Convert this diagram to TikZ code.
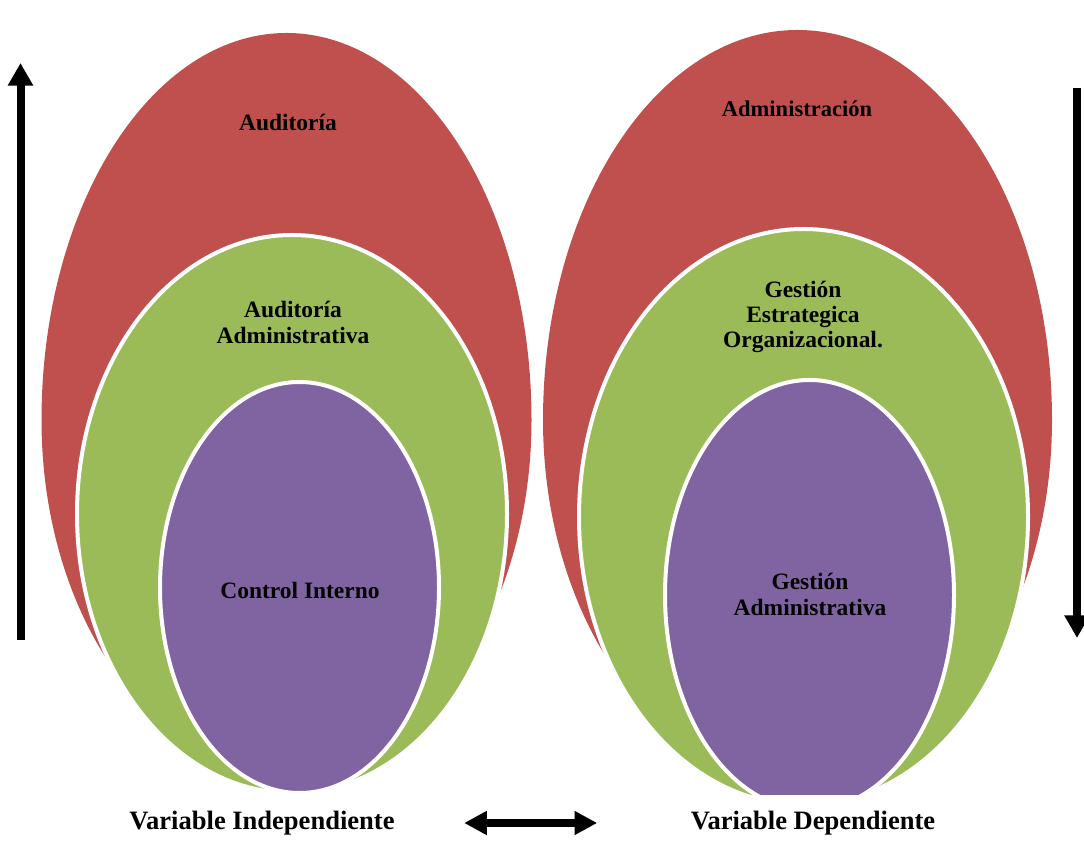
\documentclass[tikz,border=0pt]{standalone}
\usepackage{fontspec}
\setmainfont{Liberation Serif}
\usepackage{tikz}
\usetikzlibrary{arrows.meta, positioning, shapes.geometric}
\definecolor{RingRed}{RGB}{192,80,77}
\definecolor{RingGreen}{RGB}{155,187,89}
\definecolor{RingPurple}{RGB}{128,100,162}
\tikzset{
  outer/.style={fill=RingRed},
  middle/.style={fill=RingGreen, draw=white, line width=3pt},
  inner/.style={fill=RingPurple, draw=white, line width=3pt},
  lbl/.style={inner sep=0pt, align=center, text=black,
    font=\fontsize{17.6}{18.8}\selectfont\bfseries},
  varlbl/.style={inner sep=0pt, text=black,
    font=\fontsize{19.9}{22}\selectfont\bfseries},
  bigarr/.style={-{Triangle[width=18pt, length=17pt]}, draw=black, line width=6pt},
  dblarr/.style={{Triangle[width=17pt, length=17pt]}-{Triangle[width=17pt, length=17pt]},
    draw=black, line width=6pt}
}

\begin{document}
\begin{tikzpicture}[x=0.75pt, y=0.75pt]
  \useasboundingbox (0,0) rectangle (1084,841);

  % ── Independent variable rings ──
  \fill[outer] (41.5,421) arc[start angle=180, end angle=0, x radius=245, y radius=387]
                          arc[start angle=0, end angle=-180, x radius=245, y radius=352] -- cycle;
  \filldraw[middle] (292,327) ellipse[x radius=215, y radius=279];
  \filldraw[inner] (299.5,253.5) ellipse[x radius=139.5, y radius=205.5];

  % ── Dependent variable rings ──
  \begin{scope}
    \clip (0,46) rectangle (1084,841);
    \fill[outer] (543,421) arc[start angle=180, end angle=0, x radius=254.5, y radius=390]
                           arc[start angle=0, end angle=-180, x radius=254.5, y radius=360] -- cycle;
    \filldraw[middle] (803.5,324) ellipse[x radius=224.5, y radius=288];
    \filldraw[inner] (809.5,246) ellipse[x radius=144.5, y radius=215];
  \end{scope}

  % ── Labels ──
  \node[lbl] (audit)    at (288,718)   {Auditoría};
  \node[lbl] (auditadm) at (293,518.5) {Auditoría\\Administrativa};
  \node[lbl] (control)  at (300,251)   {Control Interno};
  \node[lbl, font=\fontsize{16.9}{18}\selectfont\bfseries]
                        (admin)    at (797,732)   {Administración};
  \node[lbl] (gestest)  at (803,524)   {Gestión\\Estrategica\\Organizacional.};
  \node[lbl] (gestadm)  at (810,246.5) {Gestión\\Administrativa};

  \node[varlbl] (varind) at (262,18) {Variable Independiente};
  \node[varlbl] (vardep) at (813,18) {Variable Dependiente};

  % ── Arrows ──
  \coordinate (upfoot) at (20.5,201);
  \coordinate (uptip)  at (20.5,778);
  \coordinate (dnfoot) at (1077,753);
  \coordinate (dntip)  at (1077,203);
  \draw[bigarr] (upfoot) -- (uptip);
  \draw[bigarr] (dnfoot) -- (dntip);
  \draw[dblarr, shorten <=52pt, shorten >=70pt] (varind.east) -- (vardep.west);
\end{tikzpicture}
\end{document}
